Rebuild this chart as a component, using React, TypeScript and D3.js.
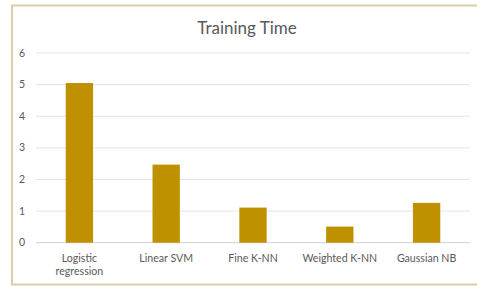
import { useEffect, useRef } from 'react';
import * as d3 from 'd3';

const categories = ['Logistic regression', 'Linear SVM', 'Fine K-NN', 'Weighted K-NN', 'Gaussian NB'];
const trainingTime = [5.05, 2.47, 1.11, 0.51, 1.26];
const yTicks = [0, 1, 2, 3, 4, 5, 6];

const labelLines: Record<string, string[]> = {
	'Logistic regression': ['Logistic', 'regression'],
};

export default function App() {
	const svgRef = useRef<SVGSVGElement>(null);

	useEffect(() => {
		if (!svgRef.current) return;
		const width = 477;
		const height = 286;

		d3.select(svgRef.current).selectAll('*').remove();
		const svg = d3.select(svgRef.current).attr('width', width).attr('height', height);

		const font = 'Lato, "Open Sans", sans-serif';

		// Frame
		svg
			.append('rect')
			.attr('x', 12)
			.attr('y', 5.5)
			.attr('width', 480)
			.attr('height', 279)
			.attr('fill', '#fff')
			.attr('stroke', '#d9cdaa')
			.attr('stroke-width', 2);

		// Title
		svg
			.append('text')
			.attr('x', 247)
			.attr('y', 34)
			.attr('text-anchor', 'middle')
			.attr('font-family', font)
			.attr('font-size', 17)
			.attr('fill', '#595959')
			.text('Training Time');

		const margin = { left: 36, right: 470, top: 53, bottom: 242.7 };

		const xScale = d3.scaleBand<string>().domain(categories).range([margin.left, margin.right]).padding(0);
		const yScale = d3.scaleLinear().domain([0, 6]).range([margin.bottom, margin.top]);

		// Grid lines
		svg
			.append('g')
			.selectAll('line')
			.data(yTicks)
			.join('line')
			.attr('x1', margin.left)
			.attr('x2', margin.right)
			.attr('y1', (d) => yScale(d))
			.attr('y2', (d) => yScale(d))
			.attr('stroke', (d) => (d === 0 ? '#d0d0d0' : '#e4e4e4'))
			.attr('stroke-width', 1);

		// Y tick labels
		svg
			.append('g')
			.selectAll('text')
			.data(yTicks)
			.join('text')
			.attr('x', 22)
			.attr('y', (d) => yScale(d) + 3.5)
			.attr('text-anchor', 'middle')
			.attr('font-family', font)
			.attr('font-size', 10.5)
			.attr('fill', '#595959')
			.text((d) => d);

		// Bars
		const barWidth = xScale.bandwidth() * 0.315;
		svg
			.append('g')
			.selectAll('rect')
			.data(trainingTime)
			.join('rect')
			.attr('x', (_, i) => xScale(categories[i])! + xScale.bandwidth() / 2 - barWidth / 2)
			.attr('y', (d) => yScale(d))
			.attr('width', barWidth)
			.attr('height', (d) => yScale(0) - yScale(d))
			.attr('fill', '#bf9000');

		// Category labels
		const labels = svg
			.append('g')
			.selectAll('text')
			.data(categories)
			.join('text')
			.attr('x', (d) => xScale(d)! + xScale.bandwidth() / 2)
			.attr('y', 261.5)
			.attr('text-anchor', 'middle')
			.attr('font-family', font)
			.attr('font-size', 10.6)
			.attr('fill', '#595959');

		labels
			.selectAll('tspan')
			.data((d) => labelLines[d] ?? [d])
			.join('tspan')
			.attr('x', function () {
				return (this as SVGTSpanElement).parentElement!.getAttribute('x');
			})
			.attr('dy', (_, i) => (i === 0 ? 0 : 13.5))
			.text((d) => d);
	}, []);

	return (
		<div style={{ position: 'absolute', left: 0, top: 0 }}>
			<svg ref={svgRef} style={{ display: 'block' }}></svg>
		</div>
	);
}
